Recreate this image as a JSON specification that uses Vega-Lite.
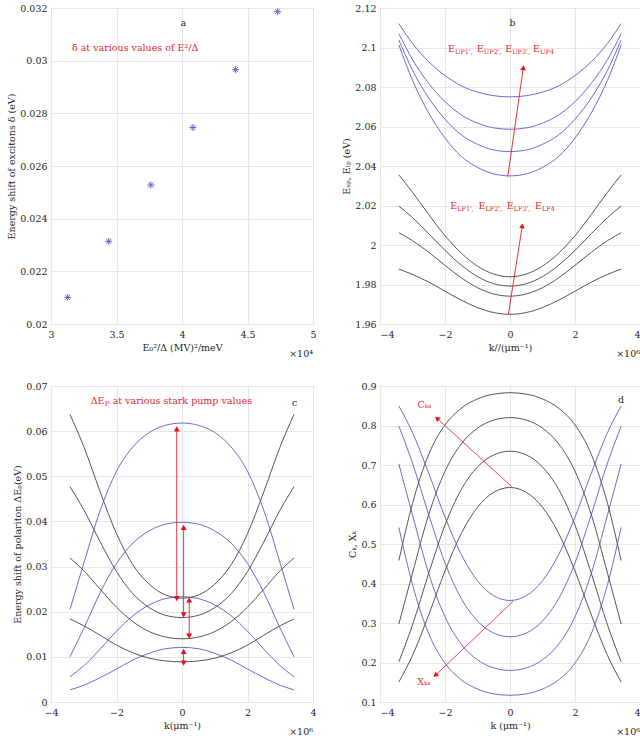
{
"$schema": "https://vega.github.io/schema/vega-lite/v6.json",
"padding": {"left": 6, "top": 2, "right": 0, "bottom": 0},
"background": "white",
"config": {
  "font": "DejaVu Serif",
  "view": {"stroke": "#8c8c8c", "strokeWidth": 1},
  "axis": {"grid": true, "gridColor": "#e6e6e6", "gridWidth": 1, "domain": false, "ticks": false, "tickSize": 0, "tickCount": 20, "labelFont": "DejaVu Serif", "labelFontSize": 9.5, "labelColor": "#262626", "titleFont": "DejaVu Serif", "titleFontSize": 9.5, "titleFontWeight": "normal", "titleColor": "#262626", "labelFlush": false, "labelOverlap": false},
  "axisX": {"labelPadding": 5, "titlePadding": 4},
  "axisY": {"labelPadding": 4, "titlePadding": 3},
  "text": {"font": "DejaVu Serif", "fontSize": 9.5}
},
"datasets": {
  "dsB": [
    {"k":-3420000,"UP1":2.1121,"UP2":2.1070,"UP3":2.1038,"UP4":2.1013,"LP1":2.0355,"LP2":2.0197,"LP3":2.0062,"LP4":1.9878},
    {"k":-3000000,"UP1":2.1021,"UP2":2.0939,"UP3":2.0885,"UP4":2.0834,"LP1":2.0267,"LP2":2.0139,"LP3":2.0022,"LP4":1.9851},
    {"k":-2500000,"UP1":2.0928,"UP2":2.0818,"UP3":2.0744,"UP4":2.0668,"LP1":2.0154,"LP2":2.0057,"LP3":1.9963,"LP4":1.9812},
    {"k":-2000000,"UP1":2.0858,"UP2":2.0726,"UP3":2.0637,"UP4":2.0542,"LP1":2.0047,"LP2":1.9973,"LP3":1.9897,"LP4":1.9766},
    {"k":-1500000,"UP1":2.0806,"UP2":2.0659,"UP3":2.0558,"UP4":2.0449,"LP1":1.9959,"LP2":1.9898,"LP3":1.9834,"LP4":1.9721},
    {"k":-1000000,"UP1":2.0774,"UP2":2.0617,"UP3":2.0510,"UP4":2.0393,"LP1":1.9893,"LP2":1.9840,"LP3":1.9784,"LP4":1.9683},
    {"k":-500000,"UP1":2.0756,"UP2":2.0593,"UP3":2.0481,"UP4":2.0360,"LP1":1.9853,"LP2":1.9804,"LP3":1.9752,"LP4":1.9658},
    {"k":0,"UP1":2.0750,"UP2":2.0586,"UP3":2.0473,"UP4":2.0350,"LP1":1.9839,"LP2":1.9792,"LP3":1.9741,"LP4":1.9649},
    {"k":500000,"UP1":2.0756,"UP2":2.0593,"UP3":2.0481,"UP4":2.0360,"LP1":1.9853,"LP2":1.9804,"LP3":1.9752,"LP4":1.9658},
    {"k":1000000,"UP1":2.0774,"UP2":2.0617,"UP3":2.0510,"UP4":2.0393,"LP1":1.9893,"LP2":1.9840,"LP3":1.9784,"LP4":1.9683},
    {"k":1500000,"UP1":2.0806,"UP2":2.0659,"UP3":2.0558,"UP4":2.0449,"LP1":1.9959,"LP2":1.9898,"LP3":1.9834,"LP4":1.9721},
    {"k":2000000,"UP1":2.0858,"UP2":2.0726,"UP3":2.0637,"UP4":2.0542,"LP1":2.0047,"LP2":1.9973,"LP3":1.9897,"LP4":1.9766},
    {"k":2500000,"UP1":2.0928,"UP2":2.0818,"UP3":2.0744,"UP4":2.0668,"LP1":2.0154,"LP2":2.0057,"LP3":1.9963,"LP4":1.9812},
    {"k":3000000,"UP1":2.1021,"UP2":2.0939,"UP3":2.0885,"UP4":2.0834,"LP1":2.0267,"LP2":2.0139,"LP3":2.0022,"LP4":1.9851},
    {"k":3420000,"UP1":2.1121,"UP2":2.1070,"UP3":2.1038,"UP4":2.1013,"LP1":2.0355,"LP2":2.0197,"LP3":2.0062,"LP4":1.9878}
  ],
  "dsC": [
    {"k":-3420000,"B1":0.0205,"B2":0.0100,"B3":0.0056,"B4":0.0027,"K1":0.0637,"K2":0.0477,"K3":0.0319,"K4":0.0184},
    {"k":-3000000,"B1":0.0307,"B2":0.0163,"B3":0.0080,"B4":0.0037,"K1":0.0566,"K2":0.0426,"K3":0.0291,"K4":0.0169},
    {"k":-2500000,"B1":0.0424,"B2":0.0242,"B3":0.0117,"B4":0.0054,"K1":0.0466,"K2":0.0355,"K3":0.0250,"K4":0.0148},
    {"k":-2000000,"B1":0.0511,"B2":0.0307,"B3":0.0157,"B4":0.0073,"K1":0.0373,"K2":0.0289,"K3":0.0210,"K4":0.0126},
    {"k":-1500000,"B1":0.0565,"B2":0.0352,"B3":0.0191,"B4":0.0093,"K1":0.0304,"K2":0.0240,"K3":0.0178,"K4":0.0109},
    {"k":-1000000,"B1":0.0597,"B2":0.0379,"B3":0.0215,"B4":0.0108,"K1":0.0261,"K2":0.0209,"K3":0.0156,"K4":0.0097},
    {"k":-500000,"B1":0.0613,"B2":0.0394,"B3":0.0229,"B4":0.0118,"K1":0.0237,"K2":0.0192,"K3":0.0144,"K4":0.0091},
    {"k":0,"B1":0.0618,"B2":0.0398,"B3":0.0233,"B4":0.0121,"K1":0.0230,"K2":0.0187,"K3":0.0140,"K4":0.0089},
    {"k":500000,"B1":0.0613,"B2":0.0394,"B3":0.0229,"B4":0.0118,"K1":0.0237,"K2":0.0192,"K3":0.0144,"K4":0.0091},
    {"k":1000000,"B1":0.0597,"B2":0.0379,"B3":0.0215,"B4":0.0108,"K1":0.0261,"K2":0.0209,"K3":0.0156,"K4":0.0097},
    {"k":1500000,"B1":0.0565,"B2":0.0352,"B3":0.0191,"B4":0.0093,"K1":0.0304,"K2":0.0240,"K3":0.0178,"K4":0.0109},
    {"k":2000000,"B1":0.0511,"B2":0.0307,"B3":0.0157,"B4":0.0073,"K1":0.0373,"K2":0.0289,"K3":0.0210,"K4":0.0126},
    {"k":2500000,"B1":0.0424,"B2":0.0242,"B3":0.0117,"B4":0.0054,"K1":0.0466,"K2":0.0355,"K3":0.0250,"K4":0.0148},
    {"k":3000000,"B1":0.0307,"B2":0.0163,"B3":0.0080,"B4":0.0037,"K1":0.0566,"K2":0.0426,"K3":0.0291,"K4":0.0169},
    {"k":3420000,"B1":0.0205,"B2":0.0100,"B3":0.0056,"B4":0.0027,"K1":0.0637,"K2":0.0477,"K3":0.0319,"K4":0.0184}
  ],
  "dsD": [
    {"k":-3420000,"X1":0.5419,"X2":0.7026,"X3":0.7984,"X4":0.8495,"C1":0.4581,"C2":0.2974,"C3":0.2016,"C4":0.1505},
    {"k":-3000000,"X1":0.3972,"X2":0.5736,"X3":0.7049,"X4":0.7821,"C1":0.6028,"C2":0.4264,"C3":0.2951,"C4":0.2179},
    {"k":-2500000,"X1":0.2728,"X2":0.4253,"X3":0.5739,"X4":0.6790,"C1":0.7272,"C2":0.5747,"C3":0.4261,"C4":0.3210},
    {"k":-2000000,"X1":0.1986,"X2":0.3157,"X3":0.4522,"X4":0.5683,"C1":0.8014,"C2":0.6843,"C3":0.5478,"C4":0.4317},
    {"k":-1500000,"X1":0.1563,"X2":0.2467,"X3":0.3621,"X4":0.4735,"C1":0.8437,"C2":0.7533,"C3":0.6379,"C4":0.5265},
    {"k":-1000000,"X1":0.1327,"X2":0.2068,"X3":0.3051,"X4":0.4070,"C1":0.8673,"C2":0.7932,"C3":0.6949,"C4":0.5930},
    {"k":-500000,"X1":0.1206,"X2":0.1863,"X3":0.2745,"X4":0.3691,"C1":0.8794,"C2":0.8137,"C3":0.7255,"C4":0.6309},
    {"k":0,"X1":0.1170,"X2":0.1800,"X3":0.2650,"X4":0.3570,"C1":0.8830,"C2":0.8200,"C3":0.7350,"C4":0.6430},
    {"k":500000,"X1":0.1206,"X2":0.1863,"X3":0.2745,"X4":0.3691,"C1":0.8794,"C2":0.8137,"C3":0.7255,"C4":0.6309},
    {"k":1000000,"X1":0.1327,"X2":0.2068,"X3":0.3051,"X4":0.4070,"C1":0.8673,"C2":0.7932,"C3":0.6949,"C4":0.5930},
    {"k":1500000,"X1":0.1563,"X2":0.2467,"X3":0.3621,"X4":0.4735,"C1":0.8437,"C2":0.7533,"C3":0.6379,"C4":0.5265},
    {"k":2000000,"X1":0.1986,"X2":0.3157,"X3":0.4522,"X4":0.5683,"C1":0.8014,"C2":0.6843,"C3":0.5478,"C4":0.4317},
    {"k":2500000,"X1":0.2728,"X2":0.4253,"X3":0.5739,"X4":0.6790,"C1":0.7272,"C2":0.5747,"C3":0.4261,"C4":0.3210},
    {"k":3000000,"X1":0.3972,"X2":0.5736,"X3":0.7049,"X4":0.7821,"C1":0.6028,"C2":0.4264,"C3":0.2951,"C4":0.2179},
    {"k":3420000,"X1":0.5419,"X2":0.7026,"X3":0.7984,"X4":0.8495,"C1":0.4581,"C2":0.2974,"C3":0.2016,"C4":0.1505}
  ]
},
"columns": 2,
"spacing": {"row": 62, "column": 67},
"bounds": "flush",
"concat": [
   {
    "width": 262, "height": 316,
    "layer": [
     {
      "data": {"values": [
        {"E2D": 31270, "delta": 0.02101},
        {"E2D": 34410, "delta": 0.02314},
        {"E2D": 37620, "delta": 0.02528},
        {"E2D": 40830, "delta": 0.02746},
        {"E2D": 44090, "delta": 0.02966},
        {"E2D": 47300, "delta": 0.03186}
      ]},
      "mark": {"type": "point", "shape": "M-1,0L1,0M0,-1L0,1M-0.7,-0.7L0.7,0.7M-0.7,0.7L0.7,-0.7", "size": 49, "filled": false, "stroke": "#6464d2", "strokeWidth": 1, "opacity": 1},
      "encoding": {
        "x": {"field": "E2D", "type": "quantitative", "scale": {"domain": [30000, 50000], "nice": false, "zero": false}, "axis": {"title": "E₀²/Δ (MV)²/meV", "values": [30000, 35000, 40000, 45000, 50000], "tickCount": 20, "labelExpr": "format(datum.value/10000, '~g')"}},
        "y": {"field": "delta", "type": "quantitative", "scale": {"domain": [0.02, 0.032], "nice": false, "zero": false}, "axis": {"title": "Energy shift of excitons δ (eV)", "values": [0.02, 0.022, 0.024, 0.026, 0.028, 0.03, 0.032], "tickCount": 20, "format": "~g"}}
      }
     },
     {
      "data": {"values": [{"E2D": 40100, "delta": 0.03142, "label": "a"}]},
      "mark": {"type": "text", "color": "#262626"},
      "encoding": {"x": {"field": "E2D", "type": "quantitative"}, "y": {"field": "delta", "type": "quantitative"}, "text": {"field": "label"}}
     },
     {
      "data": {"values": [{"E2D": 31600, "delta": 0.03047, "label": "δ at various values of E²/Δ"}]},
      "mark": {"type": "text", "color": "#e0282e", "align": "left"},
      "encoding": {"x": {"field": "E2D", "type": "quantitative"}, "y": {"field": "delta", "type": "quantitative"}, "text": {"field": "label"}}
     },
     {
      "data": {"values": [{"E2D": 50000, "delta": 0.02, "label": "×10⁴"}]},
      "mark": {"type": "text", "color": "#262626", "align": "right", "dy": 30},
      "encoding": {"x": {"field": "E2D", "type": "quantitative"}, "y": {"field": "delta", "type": "quantitative"}, "text": {"field": "label"}}
     }
    ]
   },
   {
    "width": 260, "height": 316,
    "layer": [
     {
      "data": {"name": "dsB"},
      "transform": [{"fold": ["UP1", "UP2", "UP3", "UP4"], "as": ["curve", "E"]}],
      "mark": {"type": "line", "interpolate": "monotone", "strokeWidth": 1, "color": "#6b6bcf"},
      "encoding": {
        "x": {"field": "k", "type": "quantitative", "scale": {"domain": [-4000000, 4000000], "nice": false, "zero": false}, "axis": {"title": "k//(μm⁻¹)", "values": [-4000000, -2000000, 0, 2000000, 4000000], "tickCount": 20, "labelExpr": "format(datum.value/1000000, '~g')", "labelFlush": true}},
        "y": {"field": "E", "type": "quantitative", "scale": {"domain": [1.96, 2.12], "nice": false, "zero": false}, "axis": {"title": "Eᵤₚ, Eₗₚ (eV)", "values": [1.96, 1.98, 2, 2.02, 2.04, 2.06, 2.08, 2.1, 2.12], "tickCount": 20, "format": "~g"}},
        "detail": {"field": "curve"}
      }
     },
     {
      "data": {"name": "dsB"},
      "transform": [{"fold": ["LP1", "LP2", "LP3", "LP4"], "as": ["curve", "E"]}],
      "mark": {"type": "line", "interpolate": "monotone", "strokeWidth": 1, "color": "#555555"},
      "encoding": {
        "x": {"field": "k", "type": "quantitative"},
        "y": {"field": "E", "type": "quantitative"},
        "detail": {"field": "curve"}
      }
     },
     {
      "data": {"values": [{"k": -50000, "E": 1.965, "k2": 378000, "E2": 2.0097}, {"k": -70000, "E": 2.0345, "k2": 410000, "E2": 2.0898}]},
      "mark": {"type": "rule", "color": "#e8343c", "strokeWidth": 1},
      "encoding": {"x": {"field": "k", "type": "quantitative"}, "y": {"field": "E", "type": "quantitative"}, "x2": {"field": "k2"}, "y2": {"field": "E2"}}
     },
     {
      "data": {"values": [{"k": 378000, "E": 2.0097}, {"k": 410000, "E": 2.0898}]},
      "mark": {"type": "point", "shape": "triangle-up", "size": 32, "filled": true, "color": "#e8101a", "opacity": 1, "angle": 8.5},
      "encoding": {"x": {"field": "k", "type": "quantitative"}, "y": {"field": "E", "type": "quantitative"}}
     },
     {
      "data": {"values": [
        {"k": -1910000, "E": 2.0991, "main": "E", "sub": "UP1',"},
        {"k": -1020000, "E": 2.0991, "main": "E", "sub": "UP2',"},
        {"k": -150000, "E": 2.0991, "main": "E", "sub": "UP3',"},
        {"k": 710000, "E": 2.0991, "main": "E", "sub": "UP4"},
        {"k": -1840000, "E": 2.0195, "main": "E", "sub": "LP1',"},
        {"k": -970000, "E": 2.0195, "main": "E", "sub": "LP2',"},
        {"k": -100000, "E": 2.0195, "main": "E", "sub": "LP3',"},
        {"k": 770000, "E": 2.0195, "main": "E", "sub": "LP4"}
      ]},
      "layer": [
        {"mark": {"type": "text", "color": "#e0282e", "align": "left"},
         "encoding": {"x": {"field": "k", "type": "quantitative"}, "y": {"field": "E", "type": "quantitative"}, "text": {"field": "main"}}},
        {"mark": {"type": "text", "color": "#e0282e", "align": "left", "fontSize": 6.5, "dx": 7, "dy": 3},
         "encoding": {"x": {"field": "k", "type": "quantitative"}, "y": {"field": "E", "type": "quantitative"}, "text": {"field": "sub"}}}
      ]
     },
     {
      "data": {"values": [{"k": 80000, "E": 2.1122, "label": "b"}]},
      "mark": {"type": "text", "color": "#262626"},
      "encoding": {"x": {"field": "k", "type": "quantitative"}, "y": {"field": "E", "type": "quantitative"}, "text": {"field": "label"}}
     },
     {
      "data": {"values": [{"k": 4000000, "E": 1.96, "label": "×10⁶"}]},
      "mark": {"type": "text", "color": "#262626", "align": "right", "dy": 30},
      "encoding": {"x": {"field": "k", "type": "quantitative"}, "y": {"field": "E", "type": "quantitative"}, "text": {"field": "label"}}
     }
    ]
   },
   {
    "width": 262, "height": 316,
    "layer": [
     {
      "data": {"name": "dsC"},
      "transform": [{"fold": ["B1", "B2", "B3", "B4"], "as": ["curve", "E"]}],
      "mark": {"type": "line", "interpolate": "monotone", "strokeWidth": 1, "color": "#6b6bcf"},
      "encoding": {
        "x": {"field": "k", "type": "quantitative", "scale": {"domain": [-4000000, 4000000], "nice": false, "zero": false}, "axis": {"title": "k(μm⁻¹)", "values": [-4000000, -2000000, 0, 2000000, 4000000], "tickCount": 20, "labelExpr": "format(datum.value/1000000, '~g')"}},
        "y": {"field": "E", "type": "quantitative", "scale": {"domain": [0, 0.07], "nice": false, "zero": false}, "axis": {"title": "Energy shift of polariton ΔEₚ(eV)", "values": [0, 0.01, 0.02, 0.03, 0.04, 0.05, 0.06, 0.07], "tickCount": 20, "format": "~g"}},
        "detail": {"field": "curve"}
      }
     },
     {
      "data": {"name": "dsC"},
      "transform": [{"fold": ["K1", "K2", "K3", "K4"], "as": ["curve", "E"]}],
      "mark": {"type": "line", "interpolate": "monotone", "strokeWidth": 1, "color": "#555555"},
      "encoding": {
        "x": {"field": "k", "type": "quantitative"},
        "y": {"field": "E", "type": "quantitative"},
        "detail": {"field": "curve"}
      }
     },
     {
      "data": {"values": [
        {"k": -160000, "lo": 0.0229, "hi": 0.0605},
        {"k": 50000, "lo": 0.0193, "hi": 0.0387},
        {"k": 220000, "lo": 0.0146, "hi": 0.0226},
        {"k": 50000, "lo": 0.0086, "hi": 0.0112}
      ]},
      "layer": [
        {"mark": {"type": "rule", "color": "#e8343c", "strokeWidth": 1},
         "encoding": {"x": {"field": "k", "type": "quantitative"}, "y": {"field": "lo", "type": "quantitative"}, "y2": {"field": "hi"}}},
        {"mark": {"type": "point", "shape": "triangle-up", "size": 36, "filled": true, "color": "#e8101a", "opacity": 1},
         "encoding": {"x": {"field": "k", "type": "quantitative"}, "y": {"field": "hi", "type": "quantitative"}}},
        {"mark": {"type": "point", "shape": "triangle-down", "size": 36, "filled": true, "color": "#e8101a", "opacity": 1},
         "encoding": {"x": {"field": "k", "type": "quantitative"}, "y": {"field": "lo", "type": "quantitative"}}}
      ]
     },
     {
      "data": {"values": [{"k": -2790000, "E": 0.0666, "main": "ΔE", "sub": "P", "rest": "at various stark pump values"}]},
      "layer": [
        {"mark": {"type": "text", "color": "#e0282e", "align": "left"},
         "encoding": {"x": {"field": "k", "type": "quantitative"}, "y": {"field": "E", "type": "quantitative"}, "text": {"field": "main"}}},
        {"mark": {"type": "text", "color": "#e0282e", "align": "left", "fontSize": 7, "dx": 14, "dy": 3},
         "encoding": {"x": {"field": "k", "type": "quantitative"}, "y": {"field": "E", "type": "quantitative"}, "text": {"field": "sub"}}},
        {"mark": {"type": "text", "color": "#e0282e", "align": "left", "dx": 22},
         "encoding": {"x": {"field": "k", "type": "quantitative"}, "y": {"field": "E", "type": "quantitative"}, "text": {"field": "rest"}}}
      ]
     },
     {
      "data": {"values": [{"k": 3440000, "E": 0.0662, "label": "c"}]},
      "mark": {"type": "text", "color": "#262626"},
      "encoding": {"x": {"field": "k", "type": "quantitative"}, "y": {"field": "E", "type": "quantitative"}, "text": {"field": "label"}}
     },
     {
      "data": {"values": [{"k": 4000000, "E": 0, "label": "×10⁶"}]},
      "mark": {"type": "text", "color": "#262626", "align": "right", "dy": 30},
      "encoding": {"x": {"field": "k", "type": "quantitative"}, "y": {"field": "E", "type": "quantitative"}, "text": {"field": "label"}}
     }
    ]
   },
   {
    "width": 260, "height": 316,
    "layer": [
     {
      "data": {"name": "dsD"},
      "transform": [{"fold": ["X1", "X2", "X3", "X4"], "as": ["curve", "F"]}],
      "mark": {"type": "line", "interpolate": "monotone", "strokeWidth": 1, "color": "#6b6bcf"},
      "encoding": {
        "x": {"field": "k", "type": "quantitative", "scale": {"domain": [-4000000, 4000000], "nice": false, "zero": false}, "axis": {"title": "k (μm⁻¹)", "values": [-4000000, -2000000, 0, 2000000, 4000000], "tickCount": 20, "labelExpr": "format(datum.value/1000000, '~g')", "labelFlush": true}},
        "y": {"field": "F", "type": "quantitative", "scale": {"domain": [0.1, 0.9], "nice": false, "zero": false}, "axis": {"title": "Cₖ, Xₖ", "values": [0.1, 0.2, 0.3, 0.4, 0.5, 0.6, 0.7, 0.8, 0.9], "tickCount": 20, "format": "~g"}},
        "detail": {"field": "curve"}
      }
     },
     {
      "data": {"name": "dsD"},
      "transform": [{"fold": ["C1", "C2", "C3", "C4"], "as": ["curve", "F"]}],
      "mark": {"type": "line", "interpolate": "monotone", "strokeWidth": 1, "color": "#555555"},
      "encoding": {
        "x": {"field": "k", "type": "quantitative"},
        "y": {"field": "F", "type": "quantitative"},
        "detail": {"field": "curve"}
      }
     },
     {
      "data": {"values": [{"k": 50000, "F": 0.6454, "k2": -2245000, "F2": 0.8182}, {"k": 100000, "F": 0.3553, "k2": -2296000, "F2": 0.1673}]},
      "mark": {"type": "rule", "color": "#e0485a", "strokeWidth": 1},
      "encoding": {"x": {"field": "k", "type": "quantitative"}, "y": {"field": "F", "type": "quantitative"}, "x2": {"field": "k2"}, "y2": {"field": "F2"}}
     },
     {
      "data": {"values": [{"k": -2245000, "F": 0.8182}]},
      "mark": {"type": "point", "shape": "triangle-up", "size": 32, "filled": true, "color": "#e8101a", "opacity": 1, "angle": 312},
      "encoding": {"x": {"field": "k", "type": "quantitative"}, "y": {"field": "F", "type": "quantitative"}}
     },
     {
      "data": {"values": [{"k": -2296000, "F": 0.1673}]},
      "mark": {"type": "point", "shape": "triangle-up", "size": 32, "filled": true, "color": "#e8101a", "opacity": 1, "angle": 226.5},
      "encoding": {"x": {"field": "k", "type": "quantitative"}, "y": {"field": "F", "type": "quantitative"}}
     },
     {
      "data": {"values": [{"k": -2630000, "F": 0.852, "label": "Cₖₛ"}, {"k": -2650000, "F": 0.150, "label": "Xₖₛ"}]},
      "mark": {"type": "text", "color": "#e0282e"},
      "encoding": {"x": {"field": "k", "type": "quantitative"}, "y": {"field": "F", "type": "quantitative"}, "text": {"field": "label"}}
     },
     {
      "data": {"values": [{"k": 3420000, "F": 0.8654, "label": "d"}]},
      "mark": {"type": "text", "color": "#262626"},
      "encoding": {"x": {"field": "k", "type": "quantitative"}, "y": {"field": "F", "type": "quantitative"}, "text": {"field": "label"}}
     },
     {
      "data": {"values": [{"k": 4000000, "F": 0.1, "label": "×10⁶"}]},
      "mark": {"type": "text", "color": "#262626", "align": "right", "dy": 30},
      "encoding": {"x": {"field": "k", "type": "quantitative"}, "y": {"field": "F", "type": "quantitative"}, "text": {"field": "label"}}
     }
    ]
   }
]
}
